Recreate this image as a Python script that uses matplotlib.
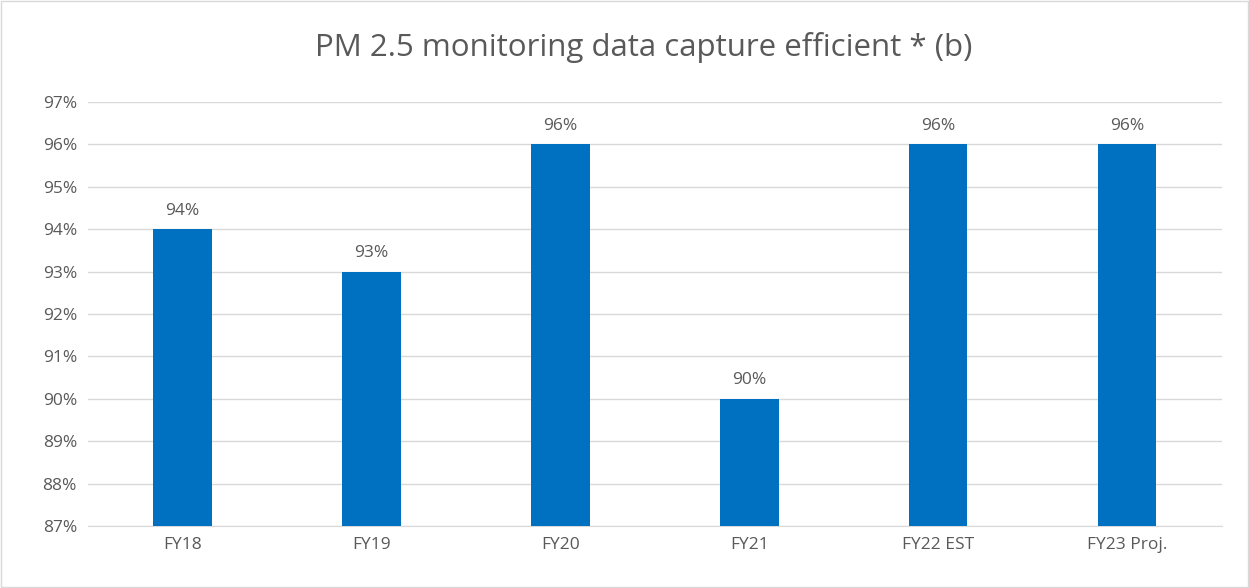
import matplotlib.pyplot as plt

categories = ['FY18', 'FY19', 'FY20', 'FY21', 'FY22 EST', 'FY23 Proj.']
values = [94, 93, 96, 90, 96, 96]
yticks = list(range(87, 98))

plt.rcParams['font.family'] = ['Open Sans', 'DejaVu Sans']
txt = '#595959'

fig = plt.figure(figsize=(12.49, 5.88), dpi=100)
ax = fig.add_axes([0.0705, 0.1054, 0.9075, 0.7211])

x = range(len(categories))
ax.bar(x, [v - 87 for v in values], bottom=87, width=0.31, color='#0070C0', zorder=3)

for xi, v in zip(x, values):
    ax.text(xi, v + 0.25, f'{v}%', ha='center', va='bottom', fontsize=12.5, color=txt)

ax.set_xlim(-0.5, len(categories) - 0.5)
ax.set_ylim(87, 97)
ax.set_yticks(yticks)
ax.set_yticklabels([f'{t}%' for t in yticks], fontsize=12.5, color=txt)
ax.set_xticks(list(x))
ax.set_xticklabels(categories, fontsize=12.5, color=txt)
ax.tick_params(length=0, pad=8)
ax.grid(axis='y', color='#d9d9d9', linewidth=1, zorder=0)
for side in ['top', 'right', 'left']:
    ax.spines[side].set_visible(False)
ax.spines['bottom'].set_color('#d9d9d9')

fig.suptitle('PM 2.5 monitoring data capture efficient * (b)', fontsize=22.5, color=txt,
             x=0.515, y=0.945)

border = plt.Rectangle((0.001, 0.001), 0.998, 0.998, transform=fig.transFigure,
                       fill=False, edgecolor='#d9d9d9', linewidth=1)
fig.patches.append(border)

plt.savefig('out.png', dpi=100)
